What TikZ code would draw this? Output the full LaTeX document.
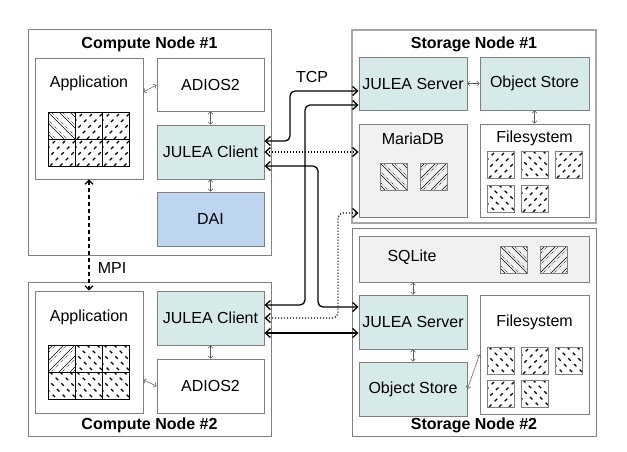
\documentclass[tikz,border=0pt]{standalone}
\usepackage{fontspec}
\setmainfont{Liberation Sans}
\usetikzlibrary{arrows.meta,calc}
\definecolor{tealfill}{HTML}{D6EAEA}
\definecolor{daifill}{HTML}{BDD5EE}
\definecolor{lgrayfill}{HTML}{F1F1F1}
\definecolor{bord}{HTML}{808080}
\newcommand{\diagfont}{\fontsize{16}{19}\selectfont}
\newcommand{\hatchl}[7]{%
  \begin{scope}
    \clip (#1,#2) rectangle ++(#3,#3);
    \foreach \k in {-5,...,5}{%
      \ifnum#4=1 \draw[#5] ({#1+\k*#6+#7},{#2+#3}) -- ++(#3,-#3);
      \else \draw[#5] ({#1+\k*#6+#7},{#2}) -- ++(#3,#3); \fi}
  \end{scope}}
\newcommand{\dsq}[3]{\hatchl{#1}{#2}{27}{#3}{hdash}{10}{2}\draw[sqb] (#1,#2) rectangle ++(27,27);}
\newcommand{\ssq}[3]{\hatchl{#1}{#2}{27}{#3}{hsol}{11}{0}\hatchl{#1}{#2}{27}{#3}{hdot}{11}{3}\draw[sqb] (#1,#2) rectangle ++(27,27);}
\begin{document}
\begin{tikzpicture}[x=1pt,y=-1pt,
  outer/.style={draw=bord, line width=1pt, inner sep=0pt},
  box/.style={draw=bord, line width=0.9pt, inner sep=0pt, align=center, font=\diagfont},
  tealbox/.style={box, fill=tealfill},
  graybox/.style={box, fill=lgrayfill},
  title/.style={font=\diagfont\bfseries, inner sep=0pt},
  lbl/.style={font=\diagfont, inner sep=0pt},
  hdash/.style={line width=1.1pt, dash pattern=on 3.5pt off 4.5pt},
  hsol/.style={line width=0.6pt},
  hdot/.style={line width=0.6pt, dash pattern=on 0.6pt off 1.2pt},
  sqb/.style={draw=bord, line width=0.7pt},
  tcp/.style={line width=1.3pt, rounded corners=5pt, {Straight Barb[length=5pt,width=9pt]}-{Straight Barb[length=5pt,width=9pt]}},
  dotc/.style={tcp, dash pattern=on 1pt off 2pt},
  thinc/.style={draw=black!65, line width=0.5pt, {Straight Barb[length=2.5pt,width=5pt]}-{Straight Barb[length=2.5pt,width=5pt]}},
  mpic/.style={line width=1.2pt, dash pattern=on 4pt off 3pt, {Straight Barb[length=4pt,width=8pt]}-{Straight Barb[length=4pt,width=8pt]}}
]
\useasboundingbox (0,0) rectangle (627,452);
\fill[white] (0,0) rectangle (627,452);

% ---------- Compute Node #1
\node[outer, minimum width=243pt, minimum height=225pt] (cn1) at (149.5,142.5) {};
\node[title] (cn1t) at (149.5,44) {Compute Node \#1};
\node[box, minimum width=108pt, minimum height=121pt] (app1) at (89,118.5) {};
\node[lbl] (app1t) at (89,83) {Application};
\node[box, minimum width=107pt, minimum height=53pt] (adios1) at (210.5,84.5) {ADIOS2};
\node[tealbox, minimum width=107pt, minimum height=54pt] (client1) at (210.5,152) {JULEA Client};
\node[box, fill=daifill, minimum width=107pt, minimum height=54pt] (dai) at (210.5,219) {DAI};
% grid app1
\ssq{48}{112}{0}
\dsq{75}{112}{1}\dsq{102}{112}{1}
\dsq{48}{139}{1}\dsq{75}{139}{1}\dsq{102}{139}{1}
\draw[line width=0.8pt] (48,112) rectangle (129,166) (75,112) -- (75,166) (102,112) -- (102,166) (48,139) -- (129,139);

% ---------- Compute Node #2
\node[outer, minimum width=243pt, minimum height=154pt] (cn2) at (149.5,359) {};
\node[title] (cn2t) at (149.5,425) {Compute Node \#2};
\node[box, minimum width=108pt, minimum height=122pt] (app2) at (89,352) {};
\node[lbl] (app2t) at (89,317) {Application};
\node[tealbox, minimum width=107pt, minimum height=54pt] (client2) at (210.5,318) {JULEA Client};
\node[box, minimum width=107pt, minimum height=54pt] (adios2) at (210.5,386) {ADIOS2};
\ssq{48}{345}{1}
\dsq{75}{345}{0}\dsq{102}{345}{0}
\dsq{48}{372}{0}\dsq{75}{372}{0}\dsq{102}{372}{0}
\draw[line width=0.8pt] (48,345) rectangle (129,399) (75,345) -- (75,399) (102,345) -- (102,399) (48,372) -- (129,372);

% ---------- Storage Node #1
\node[outer, draw=bord!70, line width=1.4pt, minimum width=244pt, minimum height=193pt] (sn1) at (474,126.5) {};
\node[title] (sn1t) at (474,44) {Storage Node \#1};
\node[tealbox, minimum width=108pt, minimum height=53pt] (server1) at (413,83.5) {JULEA Server};
\node[tealbox, minimum width=109pt, minimum height=53pt] (objst1) at (534.5,83.5) {Object Store};
\node[graybox, minimum width=108pt, minimum height=93pt] (maria) at (413,170.5) {};
\node[lbl] (mariat) at (413,139) {MariaDB};
\node[box, minimum width=109pt, minimum height=93pt] (fs1) at (534.5,170.5) {};
\node[lbl] (fs1t) at (534.5,138) {Filesystem};
\ssq{380}{163}{0}\ssq{420}{163}{1}
\dsq{487}{151}{1}\dsq{521}{151}{0}\dsq{555}{151}{1}
\dsq{487}{185}{0}\dsq{521}{185}{1}

% ---------- Storage Node #2
\node[outer, minimum width=244pt, minimum height=208pt] (sn2) at (474,332) {};
\node[title] (sn2t) at (474,425) {Storage Node \#2};
\node[graybox, minimum width=230pt, minimum height=46pt] (sqlite) at (474,259) {};
\node[lbl] (sqlitet) at (412,257) {SQLite};
\ssq{500}{246}{0}\ssq{540}{246}{1}
\node[tealbox, minimum width=108pt, minimum height=54pt] (server2) at (413,322) {JULEA Server};
\node[tealbox, minimum width=108pt, minimum height=54pt] (objst2) at (413,389) {Object Store};
\node[box, minimum width=109pt, minimum height=119pt] (fs2) at (534.5,354.5) {};
\node[lbl] (fs2t) at (534.5,322) {Filesystem};
\dsq{487}{347}{0}\dsq{521}{347}{1}\dsq{555}{347}{0}
\dsq{487}{380}{1}\dsq{521}{380}{0}

% ---------- small local connectors
\draw[thinc] ([yshift=26.5pt]app1.east) -- ([yshift=-0.5pt]adios1.west);
\draw[thinc] (adios1.south) -- (client1.north);
\draw[thinc] (client1.south) -- (dai.north);
\draw[thinc] (client2.south) -- (adios2.north);
\draw[thinc] ([yshift=-28pt]app2.east) -- (adios2.west);
\draw[thinc] (server1.east) -- (objst1.west);
\draw[thinc] (objst1.south) -- (fs1.north);
\draw[thinc] (sqlite.south -| server2.north) -- (server2.north);
\draw[thinc] (server2.south) -- (objst2.north);
\draw[thinc] (objst2.east) -- (fs2.west);

% ---------- MPI
\draw[mpic] (app1.south) -- (app2.north);
\node[lbl] (mpit) at (112,268) {MPI};

% ---------- TCP connectors
\coordinate (lane1) at (290,0);
\coordinate (lane2) at (305,0);
\coordinate (lane3) at (318,0);
\coordinate (lane4) at (338,0);
\coordinate (c1a) at ([yshift=11pt]client1.east);
\coordinate (c1b) at (client1.east);
\coordinate (c1c) at ([yshift=-14pt]client1.east);
\coordinate (c2a) at ([yshift=13pt]client2.east);
\coordinate (c2b) at (client2.east);
\coordinate (c2c) at ([yshift=-15pt]client2.east);
\coordinate (s1a) at ([yshift=-7.5pt]server1.west);
\coordinate (s1b) at ([yshift=-21.5pt]server1.west);
\coordinate (m1a) at ([yshift=18.5pt]maria.west);
\coordinate (m1b) at ([yshift=-42.5pt]maria.west);
\coordinate (s2a) at ([yshift=15pt]server2.west);
\coordinate (s2b) at ([yshift=-11pt]server2.west);
\node[lbl] (tcpt) at (312,77) {TCP};

\draw[tcp] (c1a) -- (c1a -| lane1) -- (lane1 |- s1a) -- (s1a);
\draw[dotc] (c1b) -- (m1a);
\draw[tcp] (c1c) -- (c1c -| lane3) -- (lane3 |- s2a) -- (s2a);
\draw[tcp] (s1b) -- (s1b -| lane2) -- (lane2 |- c2a) -- (c2a);
\draw[dotc] (c2b) -- (c2b -| lane4) -- (lane4 |- m1b) -- (m1b);
\draw[tcp] (c2c) -- (s2b);
\end{tikzpicture}
\end{document}
